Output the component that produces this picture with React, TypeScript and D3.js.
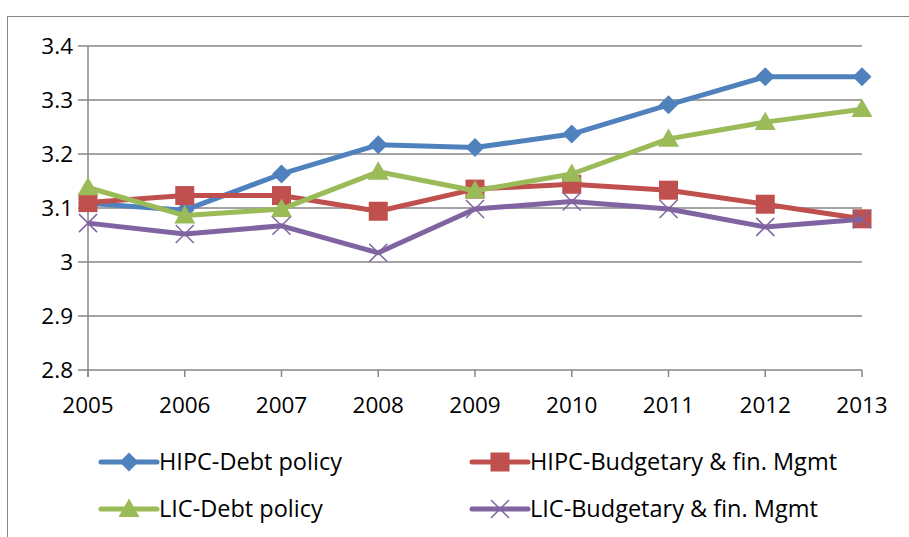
import React from "react";
import * as d3 from "d3";

const years = ["2005", "2006", "2007", "2008", "2009", "2010", "2011", "2012", "2013"];
const hipcDebt = [3.109, 3.096, 3.163, 3.217, 3.212, 3.237, 3.291, 3.343, 3.343];
const hipcBudget = [3.11, 3.123, 3.123, 3.094, 3.135, 3.144, 3.133, 3.107, 3.08];
const licDebt = [3.138, 3.086, 3.098, 3.167, 3.132, 3.163, 3.228, 3.259, 3.283];
const licBudget = [3.072, 3.052, 3.067, 3.017, 3.098, 3.112, 3.098, 3.065, 3.079];
const yTicks = [2.8, 2.9, 3.0, 3.1, 3.2, 3.3, 3.4];
const yTickLabels = ["2.8", "2.9", "3", "3.1", "3.2", "3.3", "3.4"];

const seriesNames = [
  "HIPC-Debt policy",
  "HIPC-Budgetary & fin. Mgmt",
  "LIC-Debt policy",
  "LIC-Budgetary & fin. Mgmt",
];
const seriesColors = ["#4F81BD", "#C0504D", "#9BBB59", "#8064A2"];
const seriesMarkers = ["diamond", "square", "triangle", "x"];
const seriesData = [hipcDebt, hipcBudget, licDebt, licBudget];

const FONT = "'Open Sans', 'Liberation Sans', Arial, sans-serif";

function Marker({ type, x, y, color }: { type: string; x: number; y: number; color: string }) {
  if (type === "diamond") {
    const s = 9.5;
    return <path d={`M${x},${y - s}L${x + s},${y}L${x},${y + s}L${x - s},${y}Z`} fill={color} />;
  }
  if (type === "square") {
    const s = 9.5;
    return <rect x={x - s} y={y - s} width={2 * s} height={2 * s} fill={color} />;
  }
  if (type === "triangle") {
    const s = 10.5;
    return <path d={`M${x},${y - s}L${x + s},${y + s * 0.75}L${x - s},${y + s * 0.75}Z`} fill={color} />;
  }
  const s = 9;
  return (
    <path
      d={`M${x - s},${y - s}L${x + s},${y + s}M${x - s},${y + s}L${x + s},${y - s}`}
      stroke={color}
      strokeWidth={1.5}
      fill="none"
    />
  );
}

export default function App() {
  const W = 909;
  const H = 537;
  const left = 88;
  const right = 862;
  const top = 46;
  const bottom = 370;

  const x = d3.scalePoint<string>().domain(years).range([left, right]);
  const y = d3.scaleLinear().domain([2.8, 3.4]).range([bottom, top]);
  const line = d3
    .line<number>()
    .x((_, i) => x(years[i]) as number)
    .y((d) => y(d));

  const gridColor = "#868686";

  const legendItems = [
    { lx: 101, ly: 462 },
    { lx: 472, ly: 462 },
    { lx: 101, ly: 509 },
    { lx: 472, ly: 509 },
  ];

  return (
    <svg
      width={W}
      height={H}
      style={{ position: "absolute", left: 0, top: 0, background: "#fff" }}
      fontFamily={FONT}
    >
      <rect x={0} y={0} width={W} height={H} fill="#fff" />
      <rect x={7.5} y={16.5} width={W + 20} height={H + 20} fill="none" stroke={gridColor} strokeWidth={1} />
      {yTicks.map((t, i) => (
        <g key={t}>
          <line x1={78} x2={right} y1={y(t)} y2={y(t)} stroke={gridColor} strokeWidth={1.5} />
          <text x={73} y={y(t)} dy="0.36em" textAnchor="end" fontSize={22.5} fill="#000">
            {yTickLabels[i]}
          </text>
        </g>
      ))}
      <line x1={left} x2={left} y1={top} y2={bottom + 7} stroke={gridColor} strokeWidth={1.5} />
      {years.map((yr) => (
        <g key={yr}>
          <line x1={x(yr)} x2={x(yr)} y1={bottom} y2={bottom + 7} stroke={gridColor} strokeWidth={1.5} />
          <text x={x(yr)} y={405} dy="0.36em" textAnchor="middle" fontSize={22.5} fill="#000">
            {yr}
          </text>
        </g>
      ))}
      {seriesData.map((data, si) => (
        <g key={si}>
          <path d={line(data) || ""} fill="none" stroke={seriesColors[si]} strokeWidth={5} strokeLinejoin="round" />
          {data.map((v, i) => (
            <Marker key={i} type={seriesMarkers[si]} x={x(years[i]) as number} y={y(v)} color={seriesColors[si]} />
          ))}
        </g>
      ))}
      {legendItems.map((it, si) => (
        <g key={si}>
          <line x1={it.lx} x2={it.lx + 56} y1={it.ly} y2={it.ly} stroke={seriesColors[si]} strokeWidth={5} strokeLinecap="round" />
          <Marker type={seriesMarkers[si]} x={it.lx + 28} y={it.ly} color={seriesColors[si]} />
          <text x={it.lx + 58} y={it.ly} dy="0.36em" fontSize={23.5} fill="#000">
            {seriesNames[si]}
          </text>
        </g>
      ))}
    </svg>
  );
}
